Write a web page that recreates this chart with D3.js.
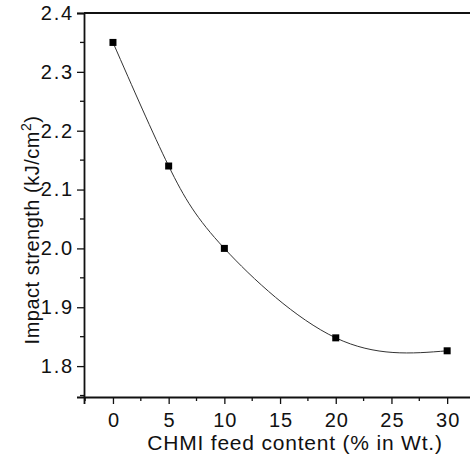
<!DOCTYPE html>
<html>
<head>
<meta charset="utf-8">
<script src="https://cdn.jsdelivr.net/npm/d3@7"></script>
<style>
  body { margin: 0; background: #fff; }
  text { font-family: "Liberation Sans", Arial, sans-serif; fill: #111; }
</style>
</head>
<body>
<div id="chart"></div>
<script>
// data
const feedContent = [0, 5, 10, 20, 30]
const impactStrength = [2.35, 2.14, 2.0, 1.848, 1.826]
const xTicks = [0, 5, 10, 15, 20, 25, 30]
const yTicks = [1.8, 1.9, 2.0, 2.1, 2.2, 2.3, 2.4]

const width = 470
const height = 473
const plot = { left: 84, right: 475, top: 13, bottom: 397 }

const svg = d3.select("#chart").append("svg")
    .attr("width", width)
    .attr("height", height)

const xScale = d3.scaleLinear().domain([-2.6, 32.5]).range([plot.left, plot.right])
const yScale = d3.scaleLinear().domain([1.7475, 2.4]).range([plot.bottom, plot.top])

const points = feedContent.map((d, i) => ({ x: d, y: impactStrength[i] }))

// x axis, major + minor ticks
const xAxis = svg.append("g").attr("transform", `translate(0,${plot.bottom})`)
xAxis.call(d3.axisBottom(xScale).tickValues(xTicks).tickSize(7).tickPadding(9).tickFormat(d3.format("d")))
xAxis.append("g").selectAll("line")
    .data(d3.range(-2.5, 32.6, 5))
    .join("line")
    .attr("x1", d => xScale(d)).attr("x2", d => xScale(d))
    .attr("y1", 0).attr("y2", 4)
    .attr("stroke", "#111").attr("stroke-width", 1.3)
xAxis.selectAll(".tick text").attr("letter-spacing", 1).attr("dx", 0.5)

// y axis
const yAxis = svg.append("g").attr("transform", `translate(${plot.left},0)`)
yAxis.call(d3.axisLeft(yScale).tickValues(yTicks).tickSize(7).tickPadding(3).tickFormat(d3.format(".1f")))
yAxis.append("g").selectAll("line")
    .data(d3.range(1.75, 2.4, 0.1))
    .join("line")
    .attr("x1", 0).attr("x2", -4)
    .attr("y1", d => yScale(d)).attr("y2", d => yScale(d))
    .attr("stroke", "#111").attr("stroke-width", 1.3)
yAxis.selectAll(".tick text").attr("letter-spacing", 1.8)

svg.selectAll(".domain").attr("stroke", "#111").attr("stroke-width", 1.8)
svg.selectAll(".tick line").attr("stroke", "#111").attr("stroke-width", 1.3)
svg.selectAll(".tick text").attr("font-size", 20).attr("font-family", "Liberation Sans, Arial, sans-serif").attr("fill", "#111")

// top frame line
svg.append("line")
    .attr("x1", plot.left).attr("x2", plot.right)
    .attr("y1", plot.top).attr("y2", plot.top)
    .attr("stroke", "#111").attr("stroke-width", 1.8)

// fitted curve
const line = d3.line()
    .x(d => xScale(d.x))
    .y(d => yScale(d.y))
    .curve(d3.curveNatural)

svg.append("path")
    .datum(points)
    .attr("d", line)
    .attr("fill", "none")
    .attr("stroke", "#333")
    .attr("stroke-width", 1)

svg.selectAll(".marker")
    .data(points)
    .join("rect")
    .attr("class", "marker")
    .attr("x", d => xScale(d.x) - 3.5)
    .attr("y", d => yScale(d.y) - 3.5)
    .attr("width", 7)
    .attr("height", 7)
    .attr("fill", "#000")

// axis titles
svg.append("text")
    .attr("x", 295)
    .attr("y", 450)
    .attr("text-anchor", "middle")
    .attr("font-size", 21)
    .attr("letter-spacing", 0.8)
    .text("CHMI feed content (% in Wt.)")

const yTitle = svg.append("text")
    .attr("transform", "translate(39,230) rotate(-90)")
    .attr("text-anchor", "middle")
    .attr("font-size", 20)
    .attr("letter-spacing", 0.5)
yTitle.append("tspan").text("Impact strength (kJ/cm")
yTitle.append("tspan").attr("font-size", 14).attr("dy", -8).text("2")
yTitle.append("tspan").attr("dy", 8).text(")")
</script>
</body>
</html>
